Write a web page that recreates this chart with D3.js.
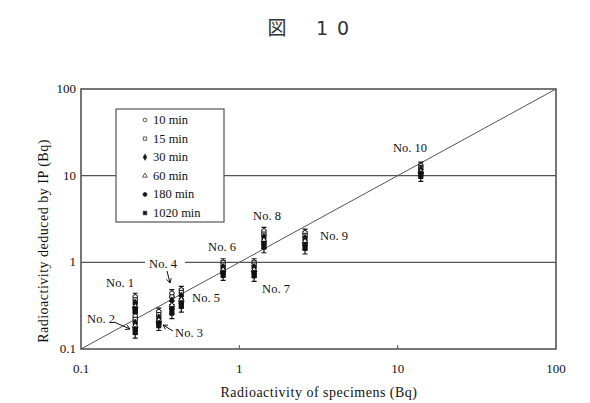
<!DOCTYPE html>
<meta charset="utf-8">
<style>
body { margin: 0; background: #fff; }
.frame line, .frame rect { stroke: #555; fill: none; }
</style>
<body>
<svg id="chart" width="590" height="403" font-family="'Liberation Serif', 'Times New Roman', serif" fill="#111"></svg>
<script src="https://d3js.org/d3.v7.min.js"></script>
<script>

// specimens and their measured activity (Bq)
var specimens = ["No. 1", "No. 2", "No. 3", "No. 4", "No. 5", "No. 6", "No. 7", "No. 8", "No. 9", "No. 10"];
var specX = [0.22, 0.22, 0.31, 0.375, 0.43, 0.79, 1.24, 1.43, 2.6, 14];

// deduced by IP, one array per exposure time
var times = ["10 min", "15 min", "30 min", "60 min", "180 min", "1020 min"];
var y10   = [0.40, 0.24, 0.27, 0.44, 0.48, 1.00, 1.00, 2.30, 2.20, 13.0];
var y15   = [0.37, 0.22, 0.25, 0.40, 0.45, 0.95, 0.95, 2.12, 2.05, 12.4];
var y30   = [0.34, 0.20, 0.23, 0.36, 0.41, 0.88, 0.88, 1.96, 1.90, 11.8];
var y60   = [0.31, 0.185, 0.215, 0.32, 0.37, 0.82, 0.82, 1.80, 1.75, 11.2];
var y180  = [0.29, 0.17, 0.20, 0.29, 0.34, 0.76, 0.76, 1.65, 1.60, 10.6];
var y1020 = [0.27, 0.155, 0.19, 0.26, 0.31, 0.72, 0.70, 1.50, 1.45, 10.0];
var series = [y10, y15, y30, y60, y180, y1020];
var errFrac = [0.10, 0.10, 0.10, 0.11, 0.12, 0.14];

var xTicks = [0.1, 1, 10, 100];
var yTicks = [0.1, 1, 10, 100];

var svg = d3.select("#chart");
var x = d3.scaleLog().domain([0.1, 100]).range([81, 556]);
var y = d3.scaleLog().domain([0.1, 100]).range([349, 89]);

// title
svg.append("text").attr("x", 277).attr("y", 35).attr("text-anchor", "middle")
  .attr("font-family", "'Noto Sans CJK JP'").attr("font-size", 19).attr("fill", "#333").text("図");
svg.append("text").attr("x", 322).attr("y", 35).attr("text-anchor", "middle")
  .attr("font-family", "'DejaVu Sans'").attr("font-size", 19).attr("fill", "#333").text("1");
svg.append("text").attr("x", 343).attr("y", 35).attr("text-anchor", "middle")
  .attr("font-family", "'DejaVu Sans'").attr("font-size", 19).attr("fill", "#333").text("0");

var frame = svg.append("g").attr("class", "frame");

// horizontal grid lines
frame.selectAll("line.grid").data([1, 10]).enter().append("line")
  .attr("class", "grid")
  .attr("x1", x(0.1)).attr("x2", x(100))
  .attr("y1", function(d) { return y(d); }).attr("y2", function(d) { return y(d); })
  .style("stroke-width", 1.2);

// identity line
frame.append("line")
  .attr("x1", x(0.1)).attr("y1", y(0.1)).attr("x2", x(100)).attr("y2", y(100));

frame.append("rect")
  .attr("x", x(0.1)).attr("y", y(100))
  .attr("width", x(100) - x(0.1)).attr("height", y(0.1) - y(100))
  .style("stroke-width", 1.6);

// small ticks on the bottom axis
frame.selectAll("line.tick").data([1, 10]).enter().append("line")
  .attr("x1", function(d) { return x(d); }).attr("x2", function(d) { return x(d); })
  .attr("y1", y(0.1)).attr("y2", y(0.1) - 4);

svg.selectAll("text.xt").data(xTicks).enter().append("text")
  .attr("x", function(d) { return x(d); }).attr("y", 373)
  .attr("text-anchor", "middle").attr("font-size", 13)
  .text(function(d) { return d; });

svg.selectAll("text.yt").data(yTicks).enter().append("text")
  .attr("x", 76).attr("y", function(d) { return y(d) + 4; })
  .attr("text-anchor", "end").attr("font-size", 13)
  .text(function(d) { return d; });

svg.append("text").attr("x", 319).attr("y", 397).attr("text-anchor", "middle")
  .attr("font-size", 14).attr("letter-spacing", 0.5).text("Radioactivity of specimens  (Bq)");
svg.append("text").attr("transform", "translate(48,241) rotate(-90)")
  .attr("text-anchor", "middle").attr("font-size", 14).attr("letter-spacing", 0.5)
  .text("Radioactivity deduced by IP  (Bq)");

// marker shapes per time
var shapes = [
  { type: d3.symbolCircle, fill: "#fff", size: 16 },
  { type: d3.symbolSquare, fill: "#fff", size: 16 },
  { type: d3.symbolDiamond, fill: "#111", size: 16 },
  { type: d3.symbolTriangle, fill: "#fff", size: 14 },
  { type: d3.symbolCircle, fill: "#111", size: 18 },
  { type: d3.symbolSquare, fill: "#111", size: 18 }
];

var points = [];
series.forEach(function(vals, t) {
  vals.forEach(function(v, i) {
    points.push({ x: specX[i], y: v, t: t, e: errFrac[t] });
  });
});

var pts = svg.append("g");
pts.selectAll("path.err").data(points).enter().append("path")
  .attr("d", function(d) {
    var px = x(d.x), y1 = y(d.y * (1 + d.e)), y2 = y(d.y * (1 - d.e));
    return "M" + px + "," + y1 + "V" + y2 +
      "M" + (px - 2.5) + "," + y1 + "H" + (px + 2.5) +
      "M" + (px - 2.5) + "," + y2 + "H" + (px + 2.5);
  })
  .attr("stroke", "#111").attr("stroke-width", 1.2).attr("fill", "none");

pts.selectAll("path.pt").data(points).enter().append("path")
  .attr("transform", function(d) { return "translate(" + x(d.x) + "," + y(d.y) + ")"; })
  .attr("d", function(d) { return d3.symbol().type(shapes[d.t].type).size(shapes[d.t].size)(); })
  .attr("fill", function(d) { return shapes[d.t].fill; })
  .attr("stroke", "#111").attr("stroke-width", 1);

// specimen labels (offsets in pixels)
var labelPos = [[120, 287], [101, 323], [189, 337], [163, 268], [206, 302], [222, 251], [276, 293], [267, 220], [334, 240], [410, 152]];
var lab = svg.append("g");
lab.append("rect").attr("x", 145).attr("y", 258).attr("width", 40).attr("height", 8).attr("fill", "#fff");
lab.selectAll("text").data(specimens).enter().append("text")
  .attr("x", function(d, i) { return labelPos[i][0]; })
  .attr("y", function(d, i) { return labelPos[i][1]; })
  .attr("text-anchor", "middle").attr("font-size", 12.5)
  .text(function(d) { return d; });

// arrows
var arrows = [[114, 322, 130, 329], [173, 331, 163, 325], [167, 271, 170, 283]];
arrows.forEach(function(a) {
  var ang = Math.atan2(a[3] - a[1], a[2] - a[0]);
  lab.append("path")
    .attr("d", "M" + a[0] + "," + a[1] + "L" + a[2] + "," + a[3] +
      "M" + (a[2] - 5 * Math.cos(ang - 0.5)) + "," + (a[3] - 5 * Math.sin(ang - 0.5)) +
      "L" + a[2] + "," + a[3] +
      "L" + (a[2] - 5 * Math.cos(ang + 0.5)) + "," + (a[3] - 5 * Math.sin(ang + 0.5)))
    .attr("stroke", "#111").attr("fill", "none");
});

// legend
var leg = svg.append("g");
leg.append("rect").attr("x", 116).attr("y", 109).attr("width", 108).attr("height", 113)
  .attr("fill", "#fff").attr("stroke", "#555").attr("stroke-width", 1.2);
var items = leg.selectAll("g").data(times).enter().append("g")
  .attr("transform", function(d, i) { return "translate(145," + (120 + i * 18.6) + ")"; });
items.append("path")
  .attr("d", function(d, i) { return d3.symbol().type(shapes[i].type).size(shapes[i].size * 0.7)(); })
  .attr("fill", function(d, i) { return shapes[i].fill; })
  .attr("stroke", "#333").attr("stroke-width", 0.8);
items.append("text").attr("x", 8).attr("y", 4).attr("font-size", 12.5)
  .text(function(d) { return d; });

</script>
</body>
